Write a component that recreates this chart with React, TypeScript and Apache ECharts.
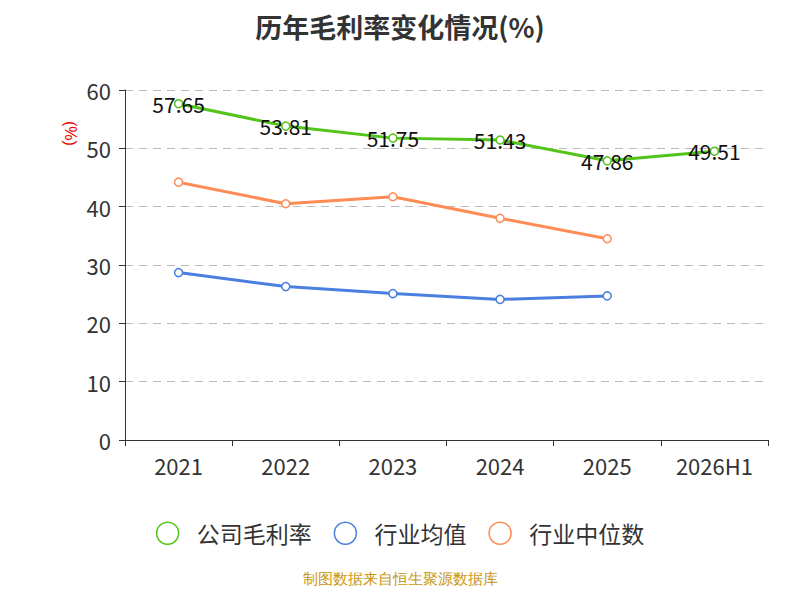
import { useEffect, useRef } from 'react'
import * as echarts from 'echarts'

const years = ['2021', '2022', '2023', '2024', '2025', '2026H1']
const company = [57.65, 53.81, 51.75, 51.43, 47.86, 49.51]
const industryAvg = [28.7, 26.3, 25.1, 24.1, 24.7, null]
const industryMedian = [44.2, 40.5, 41.7, 38.0, 34.5, null]

const names = ['公司毛利率', '行业均值', '行业中位数']
const colors = ['#52c41a', '#4a7fe0', '#ff8c55']

export default function App() {
  const ref = useRef<HTMLDivElement>(null)

  useEffect(() => {
    if (!ref.current) return
    const chart = echarts.init(ref.current, null, { renderer: 'svg' })
    const mk = (name: string, data: (number | null)[], color: string, label = false) => ({
      name,
      type: 'line',
      data,
      color,
      symbol: 'circle',
      symbolSize: 8,
      itemStyle: { color: '#fff', borderColor: color, borderWidth: 1.5 },
      lineStyle: { color, width: 3 },
      label: label
        ? { show: true, position: 'inside', fontSize: 21, color: '#111', formatter: (p: any) => p.value.toFixed(2) }
        : { show: false },
    })
    chart.setOption({
      animation: false,
      textStyle: { fontFamily: 'Noto Sans CJK SC' },
      title: {
        text: '历年毛利率变化情况(%)',
        left: 'center',
        top: 0,
        textStyle: { fontSize: 27, fontWeight: 'bold', color: '#333' },
      },
      grid: { left: 117, right: 24, top: 82, bottom: 152 },
      legend: {
        bottom: 42,
        itemWidth: 48,
        itemHeight: 22,
        itemGap: 22,
        textStyle: { fontSize: 23, color: '#333' },
        data: names.map((n, i) => ({
          name: n,
          icon: 'circle',
          itemStyle: { color: '#fff', borderColor: colors[i], borderWidth: 1.5 },
          lineStyle: { color: colors[i], width: 2 },
        })),
      },
      graphic: [
        {
          type: 'text',
          left: 'center',
          bottom: 6,
          style: { text: '制图数据来自恒生聚源数据库', fontSize: 15, fill: '#c8960f' },
        },
        {
          type: 'text',
          x: 70,
          y: 113,
          rotation: -Math.PI / 2,
          style: { text: '(%)', fontSize: 16, fill: '#e00' },
        },
      ],
      xAxis: {
        type: 'category',
        data: years,
        axisLine: { lineStyle: { color: '#333' } },
        axisTick: { show: true, length: 6 },
        axisLabel: { fontSize: 22, color: '#333', margin: 14 },
      },
      yAxis: {
        type: 'value',
        min: 0,
        max: 60,
        interval: 10,
        axisLine: { show: true, lineStyle: { color: '#333' } },
        axisTick: { show: true, length: 6 },
        axisLabel: { fontSize: 22, color: '#333', margin: 14 },
        splitLine: { lineStyle: { color: '#bbb', type: [8, 6] } },
      },
      series: [
        mk(names[0], company, colors[0], true),
        mk(names[1], industryAvg, colors[1]),
        mk(names[2], industryMedian, colors[2]),
      ],
    })
    return () => chart.dispose()
  }, [])

  return <div ref={ref} style={{ width: 784, height: 584 }} />
}
